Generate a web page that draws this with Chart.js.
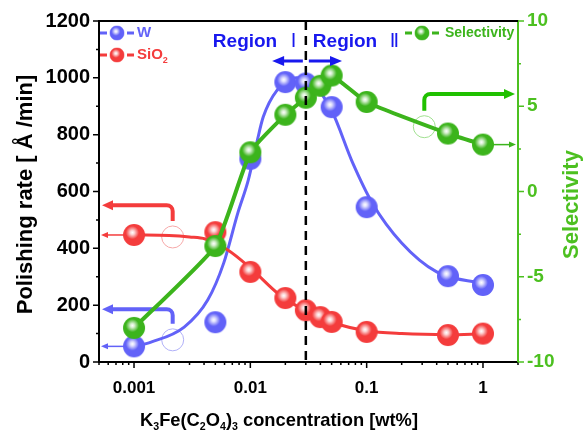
<!DOCTYPE html>
<html>
<head>
<meta charset="utf-8">
<script src="https://cdn.jsdelivr.net/npm/chart.js@4.4.0/dist/chart.umd.min.js"></script>
<style>
  html, body { margin: 0; padding: 0; background: #fff; }
</style>
</head>
<body>
<canvas id="chart" width="584" height="430"></canvas>
<script>
// measured points
const wConc = [0.001, 0.005, 0.01, 0.02, 0.03, 0.05, 0.1, 0.5, 1];
const wRate = [55, 140, 715, 985, 980, 897, 545, 302, 271];
const sConc = [0.001, 0.005, 0.01, 0.02, 0.03, 0.04, 0.05, 0.1, 0.5, 1];
const sio2Rate = [447, 457, 317, 225, 182, 158, 141, 106, 95, 100];
const selectivity = [-8.0, -3.2, 2.3, 4.5, 5.5, 6.2, 6.8, 5.25, 3.4, 2.75];

// fitted curves
const wFitConc = [0.001, 0.0014, 0.0027, 0.0043, 0.0059, 0.0078, 0.0096, 0.0115, 0.0129, 0.017, 0.025, 0.035, 0.05, 0.076, 0.112, 0.2, 0.4, 1];
const wFitRate = [55, 70, 123, 218, 348, 524, 640, 781, 862, 957, 1000, 975, 885, 700, 559, 419, 317, 275];
const sio2FitConc = [0.001, 0.002, 0.003, 0.0041, 0.0064, 0.01, 0.018, 0.03, 0.05, 0.1, 0.2, 0.5, 1];
const sio2FitRate = [447, 445, 440, 433, 394, 331, 235, 180, 140, 110, 100, 96, 99];

const xTicks = [0.001, 0.01, 0.1, 1];

const BLUE = '#6262f8';
const RED = '#f43c3c';
const GREEN = '#3cb41c';
const AXIS_GREEN = '#4cc020';
const REGION_BLUE = '#1818ee';
const FONT = '"Liberation Sans", Arial, sans-serif';

function sphere(color, r) {
    const s = 2 * r + 2;
    const c = document.createElement('canvas');
    c.width = s; c.height = s;
    const g = c.getContext('2d');
    const cx = s / 2, cy = s / 2;
    g.beginPath();
    g.arc(cx, cy, r, 0, Math.PI * 2);
    g.fillStyle = color;
    g.fill();
    const hx = cx - r * 0.15, hy = cy - r * 0.22;
    const hl = g.createRadialGradient(hx, hy, 0, hx, hy, r * 0.6);
    hl.addColorStop(0, 'rgba(255,255,255,1)');
    hl.addColorStop(0.3, 'rgba(255,255,255,0.8)');
    hl.addColorStop(1, 'rgba(255,255,255,0)');
    g.fillStyle = hl;
    g.beginPath();
    g.arc(cx, cy, r, 0, Math.PI * 2);
    g.fill();
    return c;
}

const blueBall = sphere(BLUE, 11);
const redBall = sphere(RED, 11);
const greenBall = sphere(GREEN, 11);

function pts(xs, ys) {
    return xs.map((x, i) => ({x: x, y: ys[i]}));
}

function arrowHead(ctx, x, y, dir, len, half) {
    ctx.beginPath();
    ctx.moveTo(x, y);
    ctx.lineTo(x - dir * len, y - half);
    ctx.lineTo(x - dir * len, y + half);
    ctx.closePath();
    ctx.fill();
}

function bracket(ctx, cx, cy, r, yTop, xEnd, color, ring) {
    const dir = xEnd < cx ? -1 : 1;
    const rad = 6;
    ctx.save();
    ctx.strokeStyle = ring;
    ctx.lineWidth = 1;
    ctx.beginPath();
    ctx.arc(cx, cy, r, 0, Math.PI * 2);
    ctx.stroke();
    ctx.strokeStyle = color;
    ctx.fillStyle = color;
    ctx.lineWidth = 4;
    ctx.beginPath();
    ctx.moveTo(cx, cy - r - 5);
    ctx.lineTo(cx, yTop + rad);
    ctx.arcTo(cx, yTop, cx + dir * rad, yTop, rad);
    ctx.lineTo(xEnd - dir * 8, yTop);
    ctx.stroke();
    arrowHead(ctx, xEnd, yTop, dir, 11, 5);
    ctx.restore();
}

function thinArrow(ctx, x0, y, x1, color) {
    const dir = x1 < x0 ? -1 : 1;
    ctx.save();
    ctx.strokeStyle = color;
    ctx.fillStyle = color;
    ctx.lineWidth = 1.5;
    ctx.beginPath();
    ctx.moveTo(x0, y);
    ctx.lineTo(x1 - dir * 5, y);
    ctx.stroke();
    arrowHead(ctx, x1, y, dir, 7, 3);
    ctx.restore();
}

const decorations = {
    id: 'decorations',
    beforeDatasetsDraw(chart) {
        const ctx = chart.ctx;
        const a = chart.chartArea;
        const X = v => chart.scales.x.getPixelForValue(v);
        const YL = v => chart.scales.y.getPixelForValue(v);
        const YR = v => chart.scales.y2.getPixelForValue(v);
        thinArrow(ctx, X(sio2FitConc[0]), YL(sio2FitRate[0]), a.left + 2, RED);
        thinArrow(ctx, X(wFitConc[0]), YL(wFitRate[0]), a.left + 2, BLUE);
        thinArrow(ctx, X(sConc[sConc.length - 1]), YR(selectivity[selectivity.length - 1]), a.right - 2, GREEN);
        bracket(ctx, X(0.00215), YL(440), 11, YL(552), a.left + 3, RED, '#f6a8a8');
        bracket(ctx, X(0.00215), YL(78), 11, YL(186), a.left + 3, BLUE, '#b0b0f8');
        bracket(ctx, X(0.313), YR(3.8), 11, YR(5.72), a.right - 3, '#20c000', '#a0e090');
    },
    afterDatasetsDraw(chart) {
        const ctx = chart.ctx;
        const a = chart.chartArea;
        const xd = chart.scales.x.getPixelForValue(0.03);
        ctx.save();
        ctx.strokeStyle = '#000';
        ctx.lineWidth = 2.5;
        ctx.setLineDash([9, 6]);
        ctx.beginPath();
        ctx.moveTo(xd, a.top);
        ctx.lineTo(xd, a.bottom);
        ctx.stroke();
        ctx.restore();
    },
    afterDraw(chart) {
        const ctx = chart.ctx;
        const a = chart.chartArea;
        const sx = chart.scales.x, sy = chart.scales.y, sy2 = chart.scales.y2;
        const X = v => sx.getPixelForValue(v);
        const YL = v => sy.getPixelForValue(v);
        ctx.save();

        // frame top
        ctx.strokeStyle = '#000';
        ctx.lineWidth = 2;
        ctx.beginPath();
        ctx.moveTo(a.left - 1, a.top);
        ctx.lineTo(a.right, a.top);
        ctx.stroke();

        // tick marks
        ctx.lineWidth = 1.5;
        ctx.beginPath();
        for (let v = 0; v <= 1200; v += 100) {
            const len = v % 200 === 0 ? 6 : 3;
            ctx.moveTo(a.left, YL(v));
            ctx.lineTo(a.left - len, YL(v));
        }
        for (let d = 0.0001; d < 10; d *= 10) {
            for (let m = 1; m <= 9; m++) {
                const v = m * d;
                if (v < sx.min || v > sx.max) continue;
                const len = m === 1 ? 6 : 3;
                ctx.moveTo(X(v), a.bottom);
                ctx.lineTo(X(v), a.bottom + len);
            }
        }
        ctx.stroke();
        ctx.strokeStyle = AXIS_GREEN;
        ctx.beginPath();
        for (let v = -10; v <= 10; v += 2.5) {
            const len = v % 5 === 0 ? 6 : 3;
            const y = sy2.getPixelForValue(v);
            ctx.moveTo(a.right, y);
            ctx.lineTo(a.right + len, y);
        }
        ctx.stroke();

        // axis titles
        ctx.fillStyle = '#000';
        ctx.font = 'bold 22px ' + FONT;
        ctx.textAlign = 'center';
        ctx.textBaseline = 'middle';
        ctx.save();
        ctx.translate(26, (a.top + a.bottom) / 2 + 3);
        ctx.rotate(-Math.PI / 2);
        ctx.fillText('Polishing rate [ Å /min]', 0, 0);
        ctx.restore();
        ctx.save();
        ctx.fillStyle = AXIS_GREEN;
        ctx.translate(572, (a.top + a.bottom) / 2 + 13);
        ctx.rotate(-Math.PI / 2);
        ctx.fillText('Selectivity', 0, 0);
        ctx.restore();

        // x title with subscripts
        const parts = [['K', 0], ['3', 1], ['Fe(C', 0], ['2', 1], ['O', 0], ['4', 1], [')', 0], ['3', 1], [' concentration [wt%]', 0]];
        const big = 'bold 19px ' + FONT, small = 'bold 11px ' + FONT;
        let total = 0;
        parts.forEach(p => { ctx.font = p[1] ? small : big; total += ctx.measureText(p[0]).width; });
        ctx.save();
        ctx.translate(279, 0);
        ctx.scale(278 / total, 1);
        let px = -total / 2;
        ctx.textAlign = 'left';
        ctx.textBaseline = 'alphabetic';
        parts.forEach(p => {
            ctx.font = p[1] ? small : big;
            ctx.fillText(p[0], px, p[1] ? 430 : 426);
            px += ctx.measureText(p[0]).width;
        });
        ctx.restore();

        // region labels
        const xd = X(0.03);
        ctx.textAlign = 'left';
        ctx.textBaseline = 'alphabetic';
        ctx.fillStyle = REGION_BLUE;
        ctx.font = 'bold 19px ' + FONT;
        ctx.fillText('Region', xd - 93, 47);
        ctx.fillText('Region', xd + 7, 47);
        ctx.font = '19px "DejaVu Sans", sans-serif';
        ctx.fillText('Ⅰ', xd - 15, 47);
        ctx.fillText('Ⅱ', xd + 84, 47);
        const ya = YL(1059);
        ctx.strokeStyle = REGION_BLUE;
        ctx.lineWidth = 3;
        ctx.beginPath();
        ctx.moveTo(xd - 3, ya); ctx.lineTo(X(0.0154) + 8, ya);
        ctx.moveTo(xd + 3, ya); ctx.lineTo(X(0.0614) - 8, ya);
        ctx.stroke();
        arrowHead(ctx, X(0.0154), ya, -1, 12, 5);
        arrowHead(ctx, X(0.0614), ya, 1, 12, 5);

        // legends
        function legendItem(x, y, ball, color) {
            ctx.strokeStyle = color;
            ctx.lineWidth = 3;
            ctx.beginPath();
            ctx.moveTo(x - 17, y); ctx.lineTo(x - 10, y);
            ctx.moveTo(x + 10, y); ctx.lineTo(x + 17, y);
            ctx.stroke();
            ctx.drawImage(ball, x - 8, y - 8, 16, 16);
        }
        ctx.textBaseline = 'middle';
        legendItem(a.left + 18, a.top + 12, blueBall, BLUE);
        ctx.fillStyle = BLUE;
        ctx.font = 'bold 15px ' + FONT;
        ctx.fillText('W', a.left + 38, a.top + 12);
        legendItem(a.left + 18, a.top + 34, redBall, RED);
        ctx.fillStyle = RED;
        ctx.fillText('SiO', a.left + 38, a.top + 34);
        const w = ctx.measureText('SiO').width;
        ctx.font = 'bold 9px ' + FONT;
        ctx.fillText('2', a.left + 38 + w, a.top + 40);
        legendItem(a.right - 96, a.top + 12, greenBall, GREEN);
        ctx.fillStyle = GREEN;
        ctx.font = 'bold 14px ' + FONT;
        ctx.fillText('Selectivity', a.right - 73, a.top + 12);

        ctx.restore();
    }
};

const ctxChart = document.getElementById('chart');
new Chart(ctxChart, {
    type: 'scatter',
    data: {
        datasets: [
            {
                label: 'Selectivity',
                data: pts(sConc, selectivity),
                yAxisID: 'y2',
                showLine: true,
                borderColor: GREEN,
                borderWidth: 4,
                tension: 0.15,
                pointStyle: greenBall,
                pointRadius: 11,
            },
            {
                label: 'SiO2',
                data: pts(sConc, sio2Rate),
                yAxisID: 'y',
                showLine: false,
                pointStyle: redBall,
                pointRadius: 11,
            },
            {
                label: 'W',
                data: pts(wConc, wRate),
                yAxisID: 'y',
                showLine: false,
                pointStyle: blueBall,
                pointRadius: 11,
            },
            {
                label: 'SiO2 fit',
                data: pts(sio2FitConc, sio2FitRate),
                yAxisID: 'y',
                showLine: true,
                borderColor: RED,
                borderWidth: 3,
                pointRadius: 0,
                cubicInterpolationMode: 'monotone',
            },
            {
                label: 'W fit',
                data: pts(wFitConc, wFitRate),
                yAxisID: 'y',
                showLine: true,
                borderColor: BLUE,
                borderWidth: 3,
                pointRadius: 0,
                cubicInterpolationMode: 'monotone',
            },
        ]
    },
    options: {
        responsive: false,
        animation: false,
        layout: {padding: {top: 21, left: 0, right: 0, bottom: 0}},
        plugins: {
            legend: {display: false},
            tooltip: {enabled: false},
        },
        scales: {
            x: {
                type: 'logarithmic',
                position: 'bottom',
                min: 0.0005,
                max: 2,
                afterBuildTicks: s => { s.ticks = xTicks.map(v => ({value: v})); },
                afterFit: s => { s.height = 68; },
                grid: {drawOnChartArea: false, drawTicks: false},
                border: {color: '#000', width: 2},
                ticks: {
                    color: '#000',
                    padding: 16,
                    maxRotation: 0,
                    autoSkip: false,
                    font: {family: FONT, size: 17, weight: 'bold'},
                    callback: v => String(v),
                },
            },
            y: {
                position: 'left',
                min: 0,
                max: 1200,
                afterFit: s => { s.width = 99; },
                grid: {drawOnChartArea: false, drawTicks: false},
                border: {color: '#000', width: 2},
                ticks: {
                    stepSize: 200,
                    color: '#000',
                    padding: 9,
                    font: {family: FONT, size: 20, weight: 'bold'},
                    callback: v => String(v),
                },
            },
            y2: {
                position: 'right',
                min: -10,
                max: 10,
                afterFit: s => { s.width = 66; },
                grid: {drawOnChartArea: false, drawTicks: false},
                border: {color: AXIS_GREEN, width: 2},
                ticks: {
                    stepSize: 5,
                    color: AXIS_GREEN,
                    padding: 9,
                    font: {family: FONT, size: 19, weight: 'bold'},
                    callback: v => String(v),
                },
            },
        },
    },
    plugins: [decorations],
});
</script>
</body>
</html>
